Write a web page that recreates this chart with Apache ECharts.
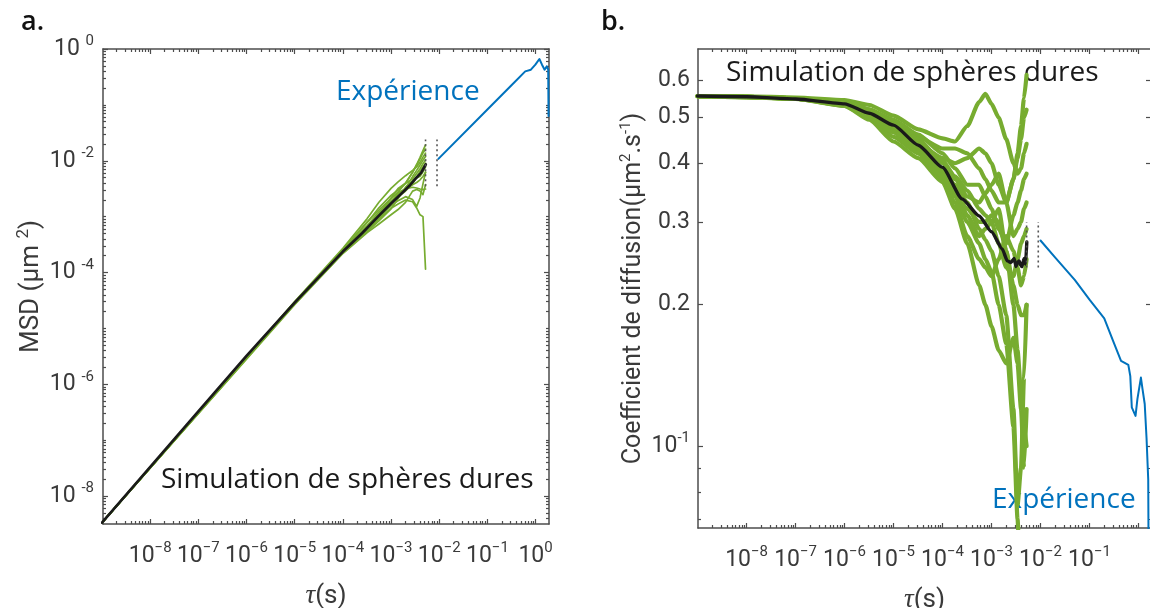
<!DOCTYPE html>
<html><head><meta charset="utf-8">
<script src="https://cdn.jsdelivr.net/npm/echarts@6/dist/echarts.min.js"></script>
<style>html,body{margin:0;padding:0;background:#fff}#c{width:1150px;height:608px}</style>
</head><body><div id="c"></div>
<script>
// ---------------- DATA ----------------
// Panel b: diffusion coefficient D(tau) of the hard-sphere simulations (um^2/s)
const tauSimB = [1e-9,1e-8,1e-7,1e-6,3.2e-6,1e-5,3.2e-5,1e-4,1.8e-4,3.2e-4,5.6e-4,7.5e-4,1e-3,1.4e-3,2e-3,2.8e-3,3.4e-3,4e-3,4.6e-3,5.2e-3];
const simD1  = [0.556,0.555,0.552,0.545,0.532,0.505,0.472,0.452,0.445,0.480,0.540,0.562,0.535,0.500,0.450,0.400,0.380,0.390,0.420,0.440];
const simD2  = [0.556,0.554,0.550,0.540,0.520,0.490,0.455,0.430,0.430,0.420,0.390,0.370,0.350,0.330,0.330,0.370,0.420,0.480,0.550,0.617];
const simD3  = [0.555,0.554,0.550,0.540,0.515,0.485,0.440,0.410,0.400,0.410,0.430,0.420,0.400,0.360,0.330,0.370,0.410,0.450,0.500,0.520];
const simD4  = [0.556,0.553,0.549,0.530,0.500,0.455,0.420,0.380,0.340,0.300,0.270,0.250,0.235,0.200,0.165,0.110,0.070,0.045,0.036,0.0037];
const simD5  = [0.556,0.554,0.549,0.535,0.505,0.475,0.430,0.390,0.360,0.330,0.290,0.275,0.260,0.230,0.190,0.120,0.075,0.090,0.140,0.200];
const simD6  = [0.555,0.553,0.550,0.540,0.520,0.490,0.450,0.400,0.370,0.340,0.330,0.345,0.360,0.380,0.330,0.280,0.290,0.300,0.320,0.330];
const simD7  = [0.556,0.554,0.549,0.535,0.510,0.480,0.440,0.370,0.330,0.280,0.250,0.240,0.230,0.250,0.280,0.260,0.240,0.220,0.230,0.250];
const simD8  = [0.555,0.553,0.548,0.530,0.495,0.445,0.410,0.365,0.320,0.270,0.220,0.200,0.180,0.160,0.150,0.170,0.150,0.120,0.090,0.120];
const simD9  = [0.556,0.554,0.550,0.540,0.520,0.495,0.460,0.420,0.390,0.360,0.360,0.340,0.320,0.290,0.270,0.310,0.330,0.350,0.370,0.380];
const simD10 = [0.556,0.553,0.549,0.535,0.505,0.470,0.425,0.385,0.355,0.310,0.280,0.290,0.300,0.320,0.260,0.220,0.200,0.190,0.190,0.200];
const simD11 = [0.556,0.554,0.550,0.538,0.512,0.478,0.445,0.405,0.375,0.350,0.320,0.310,0.300,0.270,0.240,0.230,0.250,0.270,0.280,0.290];
const simD12 = [0.555,0.553,0.549,0.532,0.500,0.465,0.420,0.375,0.345,0.320,0.300,0.300,0.310,0.300,0.260,0.200,0.160,0.130,0.110,0.100];
// Panel b: mean of simulations (black)
const tauMeanB = [1e-9,1e-8,1e-7,1e-6,3.2e-6,1e-5,3.2e-5,1e-4,2.5e-4,5.6e-4,1e-3,1.65e-3,2.1e-3,2.5e-3,2.9e-3,3.16e-3,3.4e-3,3.67e-3,3.9e-3,4.17e-3,4.4e-3,4.65e-3,4.95e-3,5.25e-3];
const meanD    = [0.556,0.554,0.548,0.535,0.511,0.482,0.437,0.392,0.336,0.309,0.286,0.263,0.248,0.246,0.251,0.241,0.246,0.248,0.243,0.241,0.247,0.251,0.244,0.272];
// Panel b: experiment (blue)
const tauExpB = [0.01,0.02,0.05,0.1,0.2,0.3,0.44,0.62,0.68,0.73,0.87,0.95,1.12,1.2,1.34,1.46,1.58,1.62];
const expD    = [0.274,0.252,0.226,0.205,0.187,0.168,0.152,0.149,0.141,0.121,0.116,0.126,0.140,0.133,0.123,0.104,0.085,0.05];

// Panel a: MSD(tau) of the same simulations (um^2)
const tauSimA = [1e-9,1e-5,1e-4,3.2e-4,5.6e-4,1e-3,1.4e-3,2e-3,2.8e-3,3.4e-3,4e-3,4.6e-3,5.2e-3];
const simMSD1  = [3.34e-9,3.03e-5,2.71e-4,9.22e-4,1.81e-3,3.21e-3,4.20e-3,5.40e-3,6.72e-3,7.75e-3,9.36e-3,1.16e-2,1.37e-2];
const simMSD2  = [3.34e-9,2.94e-5,2.58e-4,8.06e-4,1.31e-3,2.10e-3,2.77e-3,3.96e-3,6.22e-3,8.57e-3,1.15e-2,1.52e-2,1.93e-2];
const simMSD3  = [3.33e-9,2.91e-5,2.46e-4,7.87e-4,1.44e-3,2.40e-3,3.02e-3,3.96e-3,6.22e-3,8.36e-3,1.08e-2,1.38e-2,1.62e-2];
const simMSD4  = [3.34e-9,2.73e-5,2.28e-4,5.76e-4,9.07e-4,1.41e-3,1.68e-3,1.98e-3,1.85e-3,1.43e-3,1.08e-3,1.00e-3,1.15e-4];
const simMSD5  = [3.34e-9,2.85e-5,2.34e-4,6.34e-4,9.74e-4,1.56e-3,1.93e-3,2.28e-3,2.02e-3,1.53e-3,2.16e-3,3.86e-3,6.24e-3];
const simMSD6  = [3.33e-9,2.94e-5,2.40e-4,6.53e-4,1.11e-3,2.16e-3,3.19e-3,3.96e-3,4.70e-3,5.92e-3,7.20e-3,8.83e-3,1.03e-2];
const simMSD7  = [3.34e-9,2.88e-5,2.22e-4,5.38e-4,8.40e-4,1.38e-3,2.10e-3,3.36e-3,4.37e-3,4.90e-3,5.28e-3,6.35e-3,7.80e-3];
const simMSD8  = [3.33e-9,2.67e-5,2.19e-4,5.18e-4,7.39e-4,1.08e-3,1.34e-3,1.80e-3,2.86e-3,3.06e-3,2.88e-3,2.48e-3,3.74e-3];
const simMSD9  = [3.34e-9,2.97e-5,2.52e-4,6.91e-4,1.21e-3,1.92e-3,2.44e-3,3.24e-3,5.21e-3,6.73e-3,8.40e-3,1.02e-2,1.19e-2];
const simMSD10 = [3.34e-9,2.82e-5,2.31e-4,5.95e-4,9.41e-4,1.80e-3,2.69e-3,3.12e-3,3.70e-3,4.08e-3,4.56e-3,5.24e-3,6.24e-3];
const simMSD11 = [3.34e-9,2.87e-5,2.43e-4,6.72e-4,1.08e-3,1.80e-3,2.27e-3,2.88e-3,3.86e-3,5.10e-3,6.48e-3,7.73e-3,9.05e-3];
const simMSD12 = [3.33e-9,2.79e-5,2.25e-4,6.14e-4,1.01e-3,1.86e-3,2.52e-3,3.12e-3,3.36e-3,3.26e-3,3.12e-3,3.04e-3,3.12e-3];
const tauMeanA = [1e-9,1e-7,1e-6,1e-5,1e-4,2.5e-4,5.6e-4,1e-3,1.65e-3,2.5e-3,3.4e-3,4.2e-3,5.25e-3];
const meanMSD  = [3.34e-9,3.29e-7,3.21e-6,2.89e-5,2.37e-4,5.04e-4,1.04e-3,1.72e-3,2.60e-3,3.69e-3,5.02e-3,6.07e-3,8.57e-3];
const tauExpA = [0.0096,0.1,0.32,0.61,0.8,0.99,1.2,1.36,1.54,1.71,1.83,1.86];
const expMSD  = [0.0108,0.0826,0.227,0.398,0.426,0.524,0.662,0.524,0.426,0.489,0.43,0.063];

// dotted separators (tau positions) and their vertical extents
const sepTau = [5.2e-3, 9e-3];
const sepRangeA = [0.0035, 0.024];
const sepRangeB = [0.24, 0.30];

// axes ranges and tick labels
const xRangeA = [1.05e-9, 1.9];
const yRangeA = [3.16e-9, 1];
const xRangeB = [1.02e-9, 1.8];
const yRangeB = [0.067, 0.70];
const xLabelExpA = [-8,-7,-6,-5,-4,-3,-2,-1,0];
const xLabelExpB = [-8,-7,-6,-5,-4,-3,-2,-1];
const yLabelExpA = [0,-2,-4,-6,-8];
const yLabelValB = [0.1,0.2,0.3,0.4,0.5,0.6];
const yMinorValB = [0.07,0.08,0.09];

// ---------------- STYLE ----------------
const FONT = 'Roboto, "Noto Sans", sans-serif';
const TFONT_TICK = 'Roboto, "Noto Sans", sans-serif';
const TFONT = '"Open Sans", "Noto Sans", sans-serif';
const TXT = '#3a3a3a';
const AX = '#4d4d4d';
const GREEN = '#77AC30', BLUE = '#0072BD', BLACK = '#1a1a1a';

const L = Math.log10;
function pts(xs, ys){ return xs.map((x,i)=>[L(x), L(ys[i])]); }
function decadeMinors(lo, hi){
  const r=[]; for(let n=lo;n<=hi;n++){ for(let k=2;k<=9;k++) r.push(n+L(k)); } return r;
}
const richTick = {
  b: {fontFamily: TFONT_TICK, fontSize: 23, color: TXT, lineHeight: 30},
  s: {fontFamily: TFONT_TICK, fontSize: 15, color: TXT, lineHeight: 14, verticalAlign: 'top'}
};
function expFmt(minus, space){
  return function(v){
    const e = Math.round(v);
    return '{b|10' + (space?' ':'') + '}{s|' + (e<0 ? minus + (-e) : e) + '}';
  };
}
function mkAxis(gi, pos, rng, ticks, len, showLine, labels, fmt, margin, extra){
  const a = {
    type: 'value', gridIndex: gi, position: pos, min: rng[0], max: rng[1], scale: true,
    axisLine: {show: showLine, onZero: false, lineStyle: {color: AX, width: 1.5}},
    axisTick: {show: true, inside: true, length: len, customValues: ticks, lineStyle: {color: AX, width: 1.2}},
    axisLabel: labels ? {show: true, customValues: labels, formatter: fmt, margin: margin, rich: richTick, color: TXT} : {show: false},
    splitLine: {show: false}, minorTick: {show:false}
  };
  return Object.assign(a, extra || {});
}

const xa = [L(xRangeA[0]), L(xRangeA[1])], ya = [L(yRangeA[0]), L(yRangeA[1])];
const xb = [L(xRangeB[0]), L(xRangeB[1])], yb = [L(yRangeB[0]), L(yRangeB[1])];
const xMaj = [-9,-8,-7,-6,-5,-4,-3,-2,-1,0];
const xMin = decadeMinors(-10, 0);
const yMajA = yLabelExpA.slice();
const yMinA = decadeMinors(-9, -1).concat([-1,-3,-5,-7]);
const yMajB = yLabelValB.map(L);
const yMinB = yMinorValB.map(L);

const nameRich = {
  n: {fontFamily: FONT, fontSize: 26, color: TXT, lineHeight: 32},
  s: {fontFamily: FONT, fontSize: 17, color: TXT, lineHeight: 16, verticalAlign: 'top'},
  t: {fontFamily: '"Liberation Serif", "DejaVu Serif", serif', fontStyle: 'italic', fontSize: 27, color: TXT, lineHeight: 32}
};
const nameRichB = {
  n: {fontFamily: FONT, fontSize: 25, color: TXT, lineHeight: 30},
  s: {fontFamily: FONT, fontSize: 15, color: TXT, lineHeight: 14, verticalAlign: 'top'}
};

const xAxis = [
  mkAxis(0,'bottom',xa,xMaj,5,true,xLabelExpA,expFmt('−',false),17,
    {name:'{t|τ}{n|(s)}', nameLocation:'middle', nameGap:56, nameTextStyle:{rich:nameRich}}),
  mkAxis(0,'top',xa,xMaj,5,true,null),
  mkAxis(1,'bottom',xa,xMin,3,false,null),
  mkAxis(1,'top',xa,xMin,3,false,null),
  mkAxis(2,'bottom',xb,xMaj,5,true,xLabelExpB,expFmt('−',false),17,
    {name:'{t|τ}{n|(s)}', nameLocation:'middle', nameGap:56, nameTextStyle:{rich:nameRich}}),
  mkAxis(2,'top',xb,xMaj,5,true,null),
  mkAxis(3,'bottom',xb,xMin,3,false,null),
  mkAxis(3,'top',xb,xMin,3,false,null)
];
const yAxis = [
  mkAxis(0,'left',ya,yMajA,5,true,yLabelExpA,expFmt('-',true),9,
    {name:'{n|MSD (µm }{s|2}{n|)}', nameLocation:'middle', nameRotate:90, nameGap:56, nameTextStyle:{rich:nameRich}}),
  mkAxis(0,'right',ya,yMajA,5,true,null),
  mkAxis(1,'left',ya,yMinA,3,false,null),
  mkAxis(1,'right',ya,yMinA,3,false,null),
  mkAxis(2,'left',yb,yMajB,5,true,yMajB,function(v){
      const r = Math.round(Math.pow(10,v)*10)/10;
      return r === 0.1 ? '{b|10}{s|-1}' : '{b|' + r.toFixed(1) + '}';
    },8,
    {name:'{n|Coefficient de diffusion(µm}{s|2}{n|.s}{s|-1}{n|)}', nameLocation:'middle', nameRotate:90, nameGap:49, nameTextStyle:{rich:nameRichB}}),
  mkAxis(2,'right',yb,yMajB,5,true,null),
  mkAxis(3,'left',yb,yMinB,3,false,null),
  mkAxis(3,'right',yb,yMinB,3,false,null)
];

function line(xi, yi, data, color, width, extra){
  return Object.assign({type:'line', xAxisIndex: xi, yAxisIndex: yi, data: data, symbol:'none', silent:true,
    lineStyle:{color: color, width: width, join:'round', cap:'round'}, clip:true}, extra||{});
}
const SM = {smooth: 0.2, smoothMonotone: 'x'};
const simA = [simMSD1,simMSD2,simMSD3,simMSD4,simMSD5,simMSD6,simMSD7,simMSD8,simMSD9,simMSD10,simMSD11,simMSD12];
const simB = [simD1,simD2,simD3,simD4,simD5,simD6,simD7,simD8,simD9,simD10,simD11,simD12];
const dotted = {color:'#555', width:1.6, type:[2,3]};
const series = [];
simA.forEach(s => series.push(line(0,0,pts(tauSimA,s),GREEN,1.7)));
series.push(line(0,0,pts(tauMeanA,meanMSD),BLACK,2.7));
series.push(line(0,0,pts(tauExpA,expMSD),BLUE,2));
sepTau.forEach(t => series.push(line(0,0,[[L(t),L(sepRangeA[0])],[L(t),L(sepRangeA[1])]],'#555',1.6,{lineStyle:dotted})));
simB.forEach(s => series.push(line(4,4,pts(tauSimB,s),GREEN,4.2,SM)));
series.push(line(4,4,pts(tauMeanB,meanD),BLACK,3.4,SM));
series.push(line(4,4,pts(tauExpB,expD),BLUE,2));
sepTau.forEach(t => series.push(line(4,4,[[L(t),L(sepRangeB[0])],[L(t),L(sepRangeB[1])]],'#555',1.6,{lineStyle:dotted})));

function txt(x, y, s, color, size, weight){
  return {type:'text', x:x, y:y, z:1, silent:true,
    style:{text:s, fill:color, font: (weight||'normal') + ' ' + size + 'px ' + TFONT, verticalAlign:'middle', align:'left'}};
}

const option = {
  animation: false,
  backgroundColor: '#ffffff',
  grid: [
    {left:103, top:49, width:446, height:475, show:false, outerBoundsMode:'none', containLabel:false},
    {left:103, top:49, width:446, height:475, show:false, outerBoundsMode:'none', containLabel:false},
    {left:698, top:49, width:453, height:479, show:false, outerBoundsMode:'none', containLabel:false},
    {left:698, top:49, width:453, height:479, show:false, outerBoundsMode:'none', containLabel:false}
  ],
  xAxis: xAxis,
  yAxis: yAxis,
  series: series,
  graphic: [
    txt(21, 22, 'a.', '#111', 27, '600'),
    txt(601, 22, 'b.', '#111', 27, '600'),
    txt(336, 92, 'Expérience', BLUE, 28),
    txt(161, 480, 'Simulation de sphères dures', BLACK, 28),
    txt(726, 73, 'Simulation de sphères dures', BLACK, 28),
    txt(992, 500, 'Expérience', BLUE, 28)
  ]
};
const chart = echarts.init(document.getElementById('c'), null, {renderer:'canvas'});
chart.setOption(option);
</script>
</body></html>
